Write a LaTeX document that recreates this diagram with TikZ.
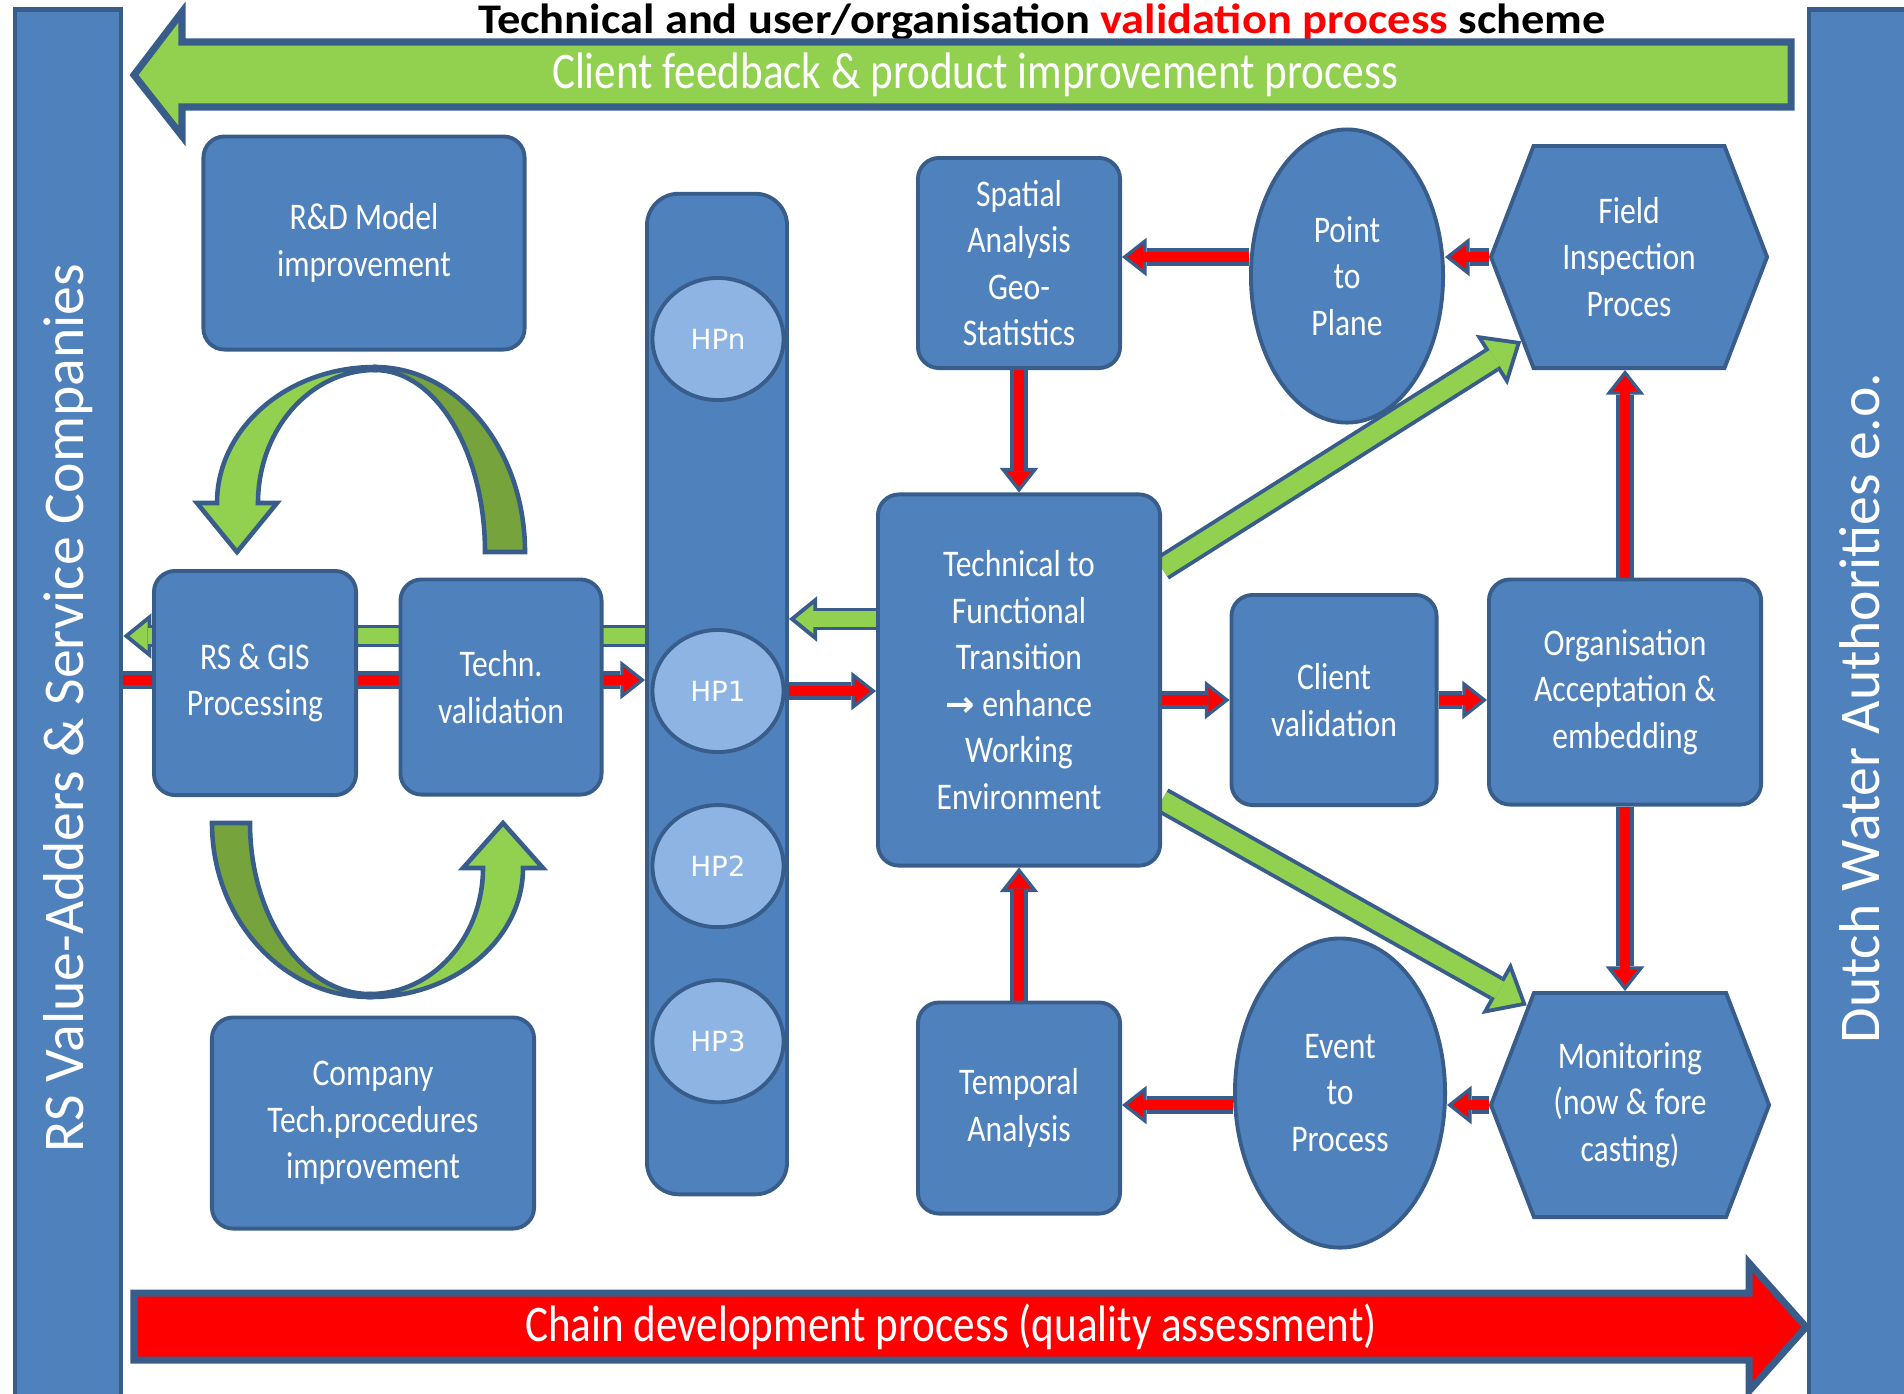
\documentclass[tikz,border=0pt]{standalone}
\usepackage{fontspec}
\setmainfont{Carlito}
\newfontfamily\condfont{Carlito}[FakeStretch=0.84]
\newfontfamily\titlefont{Carlito}[FakeStretch=1.1]
\newfontfamily\hpfont{DejaVu Sans}
\usetikzlibrary{arrows.meta,shapes.geometric,shapes.symbols,backgrounds}
\definecolor{boxblue}{HTML}{4F81BD}
\definecolor{bordblue}{HTML}{385D8A}
\definecolor{hpblue}{HTML}{8EB4E3}
\definecolor{lgreen}{HTML}{92D050}
\definecolor{dgreen}{HTML}{76A33C}

\begin{document}
\begin{tikzpicture}
  [
    x=0.01cm, y=-0.01cm,
    node distance=1.75cm,
    box node/.style={rectangle, rounded corners=6pt, draw=bordblue, line width=1.1pt, fill=boxblue,
      text=white, align=center, font={\condfont\fontsize{10.7}{13.2}\selectfont}},
    round node/.style={box node, ellipse, sharp corners},
    hex node/.style={box node, signal, signal to=west and east, signal pointer angle=138, sharp corners},
    hp node/.style={ellipse, draw=bordblue, line width=1.1pt, fill=hpblue, text=white,
      minimum width=1.31cm, minimum height=1.22cm, font={\hpfont\fontsize{7.9}{9}\selectfont}},
    side bar/.style={rectangle, draw=bordblue, line width=1.3pt, fill=boxblue, text=white, rotate=90,
      minimum width=13.96cm, font={\fontsize{16.4}{19}\selectfont}},
    banner text/.style={text=white, font={\condfont\fontsize{14.6}{17}\selectfont}},
    curved/.style={draw=bordblue, line width=1.3pt}
    ]
   \tikzstyle{redarrow} = [draw=bordblue, line width=5pt, -{Triangle[length=7pt,width=11pt,line width=0pt]},
     postaction={draw=red, line width=3pt, shorten >=1.6pt, -{Triangle[length=4.4pt,width=6.9pt,line width=0pt]}}]
   \tikzstyle{greenarrow} = [draw=bordblue, line width=6.5pt, -{Triangle[length=8pt,width=13pt,line width=0pt]},
     postaction={draw=lgreen, line width=4.3pt, shorten >=1.8pt, -{Triangle[length=5.1pt,width=8.3pt,line width=0pt]}}]
   \tikzstyle{bigarrow} = [draw=bordblue, line width=7.5pt, -{Triangle[length=10pt,width=17pt,line width=0pt]},
     postaction={draw=lgreen, line width=5.3pt, shorten >=1.7pt, -{Triangle[length=7.2pt,width=12.2pt,line width=0pt]}}]

  \useasboundingbox (0,0) rectangle (1904,1393);

  \node[anchor=base, font={\titlefont\bfseries\fontsize{12}{14}\selectfont}] (title) at (1042,33)
    {Technical and user/organisation \textcolor{red}{validation process} scheme};

  \node[side bar, minimum height=1.06cm] (rs) at (68,708) {RS Value-Adders \& Service Companies};
  \node[side bar, minimum height=1.02cm] (dwa) at (1860,708) {Dutch Water Authorities e.o.};

  \draw[fill=lgreen, draw=bordblue, line width=2pt] (134,75) -- (182,12) -- (182,42) -- (1791,42)
    -- (1791,107) -- (182,107) -- (182,136) -- cycle;
  \node[banner text] (feedback) at (975,75) {Client feedback \& product improvement process};

  \draw[fill=red, draw=bordblue, line width=2pt] (134,1293) -- (1749,1293) -- (1749,1263) -- (1806,1327)
    -- (1749,1391) -- (1749,1360) -- (134,1360) -- cycle;
  \node[banner text] (chain) at (951,1327) {Chain development process (quality assessment)};

  \node[box node, minimum width=3.21cm, minimum height=2.13cm] (rd) at (364,243) {R\&D Model\\improvement};
  \node[box node, minimum width=2.02cm, minimum height=2.24cm] (rsgis) at (255,683) {RS \& GIS\\Processing};
  \node[box node, minimum width=2.01cm, minimum height=2.15cm] (techval) at (501,687) {Techn.\\validation};
  \node[box node, minimum width=3.22cm, minimum height=2.11cm] (comp) at (373,1123) {Company\\Tech.procedures\\improvement};

  % the two turning arrows
  \draw[curved, fill=dgreen] (375,367) arc[start angle=-90, end angle=0, x radius=150, y radius=185]
    -- (485,552) arc[start angle=0, end angle=-90, x radius=110, y radius=182] -- cycle;
  \draw[curved, fill=lgreen] (375,367) arc[start angle=-90, end angle=-180, x radius=158, y radius=136]
    -- (197,503) -- (237,552) -- (277,503) -- (258,503)
    arc[start angle=-180, end angle=-90, x radius=117, y radius=133] -- cycle;
  \draw[curved, fill=dgreen] (212,823) arc[start angle=180, end angle=90, x radius=158, y radius=174]
    -- (370,994) arc[start angle=90, end angle=180, x radius=120, y radius=171] -- cycle;
  \draw[curved, fill=lgreen] (370,997) arc[start angle=90, end angle=0, x radius=153, y radius=129]
    -- (543,868) -- (503,823) -- (463,868) -- (483,868)
    arc[start angle=0, end angle=90, x radius=113, y radius=126] -- cycle;

  \node[box node, rounded corners=9pt, minimum width=1.40cm, minimum height=10cm] (hpcol) at (717,694) {};
  \node[hp node] (hpn) at (718,339) {HPn};
  \node[hp node] (hp1) at (718,691) {HP1};
  \node[hp node] (hp2) [below of=hp1] {HP2};
  \node[hp node] (hp3) [below of=hp2] {HP3};

  \node[box node, minimum width=2.82cm, minimum height=3.71cm] (tt) at (1019,680)
    {Technical to\\Functional\\Transition\\{\hpfont\bfseries\fontsize{10}{13.2}\selectfont →} enhance\\Working\\Environment};
  \node[box node, minimum width=2.02cm, minimum height=2.10cm] (sa) at (1019,263) {Spatial\\Analysis\\Geo-\\Statistics};
  \node[box node, minimum width=2.02cm, minimum height=2.11cm] (ta) at (1019,1108) {Temporal\\Analysis};
  \node[round node, minimum width=1.92cm, minimum height=2.93cm] (pp) at (1347,276) {Point\\to\\Plane};
  \node[round node, minimum width=2.10cm, minimum height=3.09cm] (ep) at (1340,1093) {Event\\to\\Process};
  \node[hex node, minimum width=2.76cm, minimum height=2.22cm] (fi) at (1629,257) {Field\\Inspection\\Proces};
  \node[hex node, minimum width=2.78cm, minimum height=2.24cm] (mon) at (1630,1105) {Monitoring\\(now \& fore\\casting)};
  \node[box node, minimum width=2.05cm, minimum height=2.10cm] (cv) at (1334,700) {Client\\validation};
  \node[box node, minimum width=2.72cm, minimum height=2.25cm] (org) at (1625,692) {Organisation\\Acceptation \&\\embedding};

  \begin{scope}[on background layer]
  \draw[greenarrow] (hpcol.west |- 0,636) -- (rs.south |- 0,636);
  \draw[redarrow] (rs.south |- 0,680) -- (hpcol.west |- 0,680);
  \draw[greenarrow] (tt.west |- 0,619) -- (hpcol.east |- 0,619);
  \draw[redarrow] (hpcol.east |- hp1) -- (tt.west |- hp1);
  \draw[redarrow] (tt.east |- cv) -- (cv.west);
  \draw[redarrow] (cv.east) -- (cv.east -| org.west);
  \draw[redarrow] (org.north) -- (org.north |- fi.south);
  \draw[redarrow] (org.south) -- (org.south |- mon.north);
  \draw[redarrow] (fi.west) -- (pp.east |- fi.west);
  \draw[redarrow] (pp.west |- fi.west) -- (sa.east |- fi.west);
  \draw[redarrow] (sa.south) -- (sa.south |- tt.north);
  \draw[redarrow] (mon.west) -- (ep.east |- mon.west);
  \draw[redarrow] (ep.west |- mon.west) -- (ta.east |- mon.west);
  \draw[redarrow] (ta.north) -- (ta.north |- tt.south);
  \draw[bigarrow] (tt.38) -- (fi.218);
  \draw[bigarrow] (tt.-40) -- (mon.136);
  \end{scope}

\end{tikzpicture}
\end{document}
